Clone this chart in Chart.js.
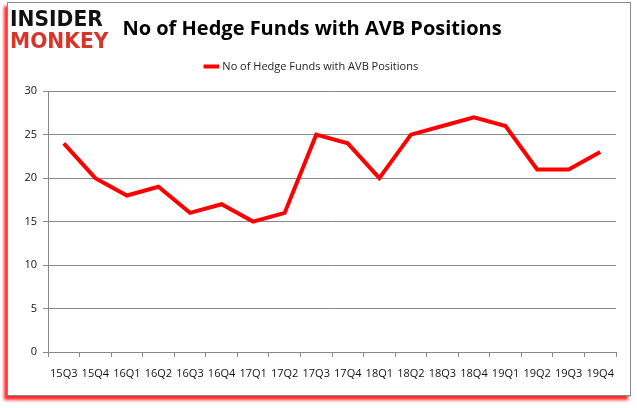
<!DOCTYPE html>
<html>
<head>
<meta charset="utf-8">
<script src="https://cdn.jsdelivr.net/npm/chart.js@4.4.1/dist/chart.umd.min.js"></script>
<style>
  body { margin: 0; background: #fff; width: 637px; height: 408px; overflow: hidden; }
  #frame {
    position: absolute; left: 7px; top: 2px; width: 622px; height: 392px;
    border: 1px solid #8a8a8a; background: #fff;
    box-shadow: -3px 4px 3px rgba(255, 0, 0, 0.85);
  }
  #logo {
    position: absolute; left: 10px; top: 8px; font-family: "DejaVu Sans", sans-serif;
    font-weight: bold; font-size: 22px; line-height: 22px;
    transform: scaleX(0.92); transform-origin: left top;
  }
  #logo .a { color: #111; }
  #logo .b { color: #d8352a; }
</style>
</head>
<body>
<div id="frame"><canvas id="chart" width="622" height="392"></canvas></div>
<div id="logo"><div class="a">INSIDER</div><div class="b">MONKEY</div></div>
<script>
// Chart data
const quarters = ['15Q3', '15Q4', '16Q1', '16Q2', '16Q3', '16Q4', '17Q1', '17Q2', '17Q3',
  '17Q4', '18Q1', '18Q2', '18Q3', '18Q4', '19Q1', '19Q2', '19Q3', '19Q4'];
const hedgeFunds = [24, 20, 18, 19, 16, 17, 15, 16, 25, 24, 20, 25, 26, 27, 26, 21, 21, 23];
const yTicks = [0, 5, 10, 15, 20, 25, 30];

new Chart(document.getElementById('chart'), {
  type: 'line',
  data: {
    labels: quarters,
    datasets: [{
      label: 'No of Hedge Funds with AVB Positions',
      data: hedgeFunds,
      borderColor: '#ff0000',
      backgroundColor: '#ff0000',
      borderWidth: 4,
      pointRadius: 0,
      tension: 0
    }]
  },
  options: {
    responsive: false,
    animation: false,
    layout: { padding: { top: 2, right: 14, left: 0, bottom: 0 } },
    plugins: {
      title: {
        display: true,
        text: 'No of Hedge Funds with AVB Positions',
        color: '#000',
        font: { family: 'Open Sans', size: 20, weight: 'bold' },
        padding: { top: 12, bottom: 10 }
      },
      // empty spacer between legend and plot area
      subtitle: {
        display: true,
        text: '',
        weight: 500,
        font: { size: 1 },
        padding: { top: 0, bottom: 8 }
      },
      legend: {
        position: 'top',
        labels: {
          usePointStyle: true,
          pointStyle: 'line',
          boxWidth: 26,
          color: '#222',
          font: { family: 'Open Sans', size: 11 }
        }
      },
      tooltip: { enabled: false }
    },
    scales: {
      x: {
        offset: true,
        grid: { offset: true, drawOnChartArea: false, drawTicks: true, tickLength: 5, color: '#888' },
        border: { color: '#888' },
        ticks: { color: '#111', font: { family: 'Open Sans', size: 11 }, maxRotation: 0, autoSkip: false, padding: 10 },
        afterFit: function (scale) { scale.height = 43; }
      },
      y: {
        min: 0,
        max: 30,
        afterBuildTicks: function (scale) { scale.ticks = yTicks.map(v => ({ value: v })); },
        grid: { color: '#888', tickLength: 5 },
        border: { color: '#888' },
        ticks: { color: '#111', font: { family: 'Open Sans', size: 11 }, padding: 6 },
        afterFit: function (scale) { scale.width = 40; }
      }
    }
  }
});
</script>
</body>
</html>
